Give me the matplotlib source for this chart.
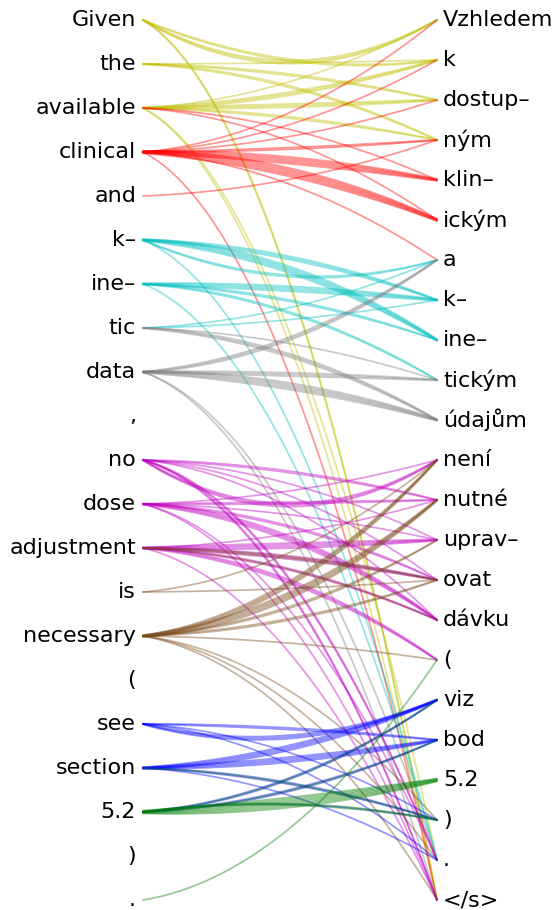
import numpy as np
import matplotlib
matplotlib.use("Agg")
import matplotlib.pyplot as plt

# ---------------- data ----------------
src_tokens = ["Given", "the", "available", "clinical", "and", "k–", "ine–", "tic",
              "data", ",", "no", "dose", "adjustment", "is", "necessary", "(",
              "see", "section", "5.2", ")", "."]
tgt_tokens = ["Vzhledem", "k", "dostup–", "ným", "klin–", "ickým", "a", "k–",
              "ine–", "tickým", "údajům", "není", "nutné", "uprav–", "ovat",
              "dávku", "(", "viz", "bod", "5.2", ")", ".", "</s>"]

# alignment links: source token, target token, strength (number of strands), colour group
link_src = [
    "Given", "Given", "Given", "the", "the", "the",
    "available", "available", "available", "available", "available", "available",
    "available", "available",
    "clinical", "clinical", "clinical", "clinical", "clinical", "clinical", "clinical", "clinical",
    "and",
    "k–", "k–", "k–", "k–", "ine–", "ine–", "ine–", "ine–", "tic", "tic",
    "tic", "tic", "data", "data", "data", "data", "data",
    "no", "no", "no", "no", "no", "no", "no",
    "dose", "dose", "dose", "dose", "dose", "dose", "dose",
    "adjustment", "adjustment", "adjustment", "adjustment", "adjustment", "adjustment",
    "adjustment", "adjustment",
    "is", "is",
    "necessary", "necessary", "necessary", "necessary", "necessary", "necessary",
    "necessary", "necessary",
    "see", "see", "see", "see",
    "section", "section", "section", "section",
    "5.2", "5.2", "5.2",
    "5.2", "5.2", "5.2", "5.2", "section", ".",
]
link_tgt = [
    "Vzhledem", "k", "</s>", "k", "dostup–", "ným",
    "Vzhledem", "k", "dostup–", "ným", ".", "</s>",
    "klin–", "ickým",
    "Vzhledem", "k", "dostup–", "ným", "klin–", "ickým", "a", "</s>",
    "ným",
    "k–", "ine–", "a", ".", "k–", "ine–", "tickým", ".", "k–", "a",
    "tickým", "údajům", "a", "tickým", "údajům", ".", "</s>",
    "není", "nutné", "uprav–", "ovat", "dávku", ".", "</s>",
    "není", "nutné", "uprav–", "ovat", "dávku", ".", "</s>",
    "nutné", "uprav–", "ovat", "dávku", "(", "</s>",
    "ovat", "dávku",
    "není", "ovat",
    "není", "nutné", "uprav–", "ovat", "(", ")", ".", "</s>",
    "viz", "bod", ")", ".",
    "viz", "bod", ")", ".",
    "viz", "bod", ")",
    "5.2", ")", "bod", "viz", ")", "(",
]
link_strength = [
    3, 2, 2, 1, 2, 2,
    1, 3, 3, 2, 1, 1,
    1, 1,
    1, 1, 1, 2, 5, 6, 1, 1,
    1,
    3, 5, 2, 1, 4, 2, 2, 1, 1, 1,
    1, 3, 3, 3, 5, 1, 1,
    3, 2, 1, 1, 1, 2, 2,
    1, 2, 1, 2, 4, 1, 1,
    1, 4, 3, 2, 3, 1,
    2, 1,
    1, 1,
    4, 5, 2, 2, 1, 1, 1, 1,
    3, 2, 1, 1,
    4, 4, 2, 1,
    2, 2, 1,
    7, 2, 1, 1, 1, 1,
]
link_group = (
    ["y"] * 12 + ["r"] * 2 + ["r"] * 8 + ["r"]
    + ["c"] * 10 + ["gray"] * 7
    + ["m"] * 7 + ["m"] * 7 + ["m"] * 6 + ["brown"] * 2
    + ["brown"] * 2 + ["brown"] * 8
    + ["b"] * 4 + ["b"] * 4 + ["b"] * 3
    + ["g"] * 6
)

# extra sag of some near-horizontal links (style, in pixels)
extra_bend = {("Given", "Vzhledem"): 42, ("Given", "k"): 28, ("no", "není"): 45,
              ("k–", "a"): 30, ("see", "viz"): 20, ("5.2", ")"): -10}

colors = {"y": (0.75, 0.75, 0.0), "r": (1.0, 0.0, 0.0), "c": (0.0, 0.75, 0.75),
          "gray": (0.5, 0.5, 0.5), "m": (0.75, 0.0, 0.75), "brown": (0.48, 0.29, 0.1),
          "b": (0.0, 0.0, 1.0), "g": (0.0, 0.5, 0.0)}

# ---------------- drawing ----------------
W, H = 557, 910
fig = plt.figure(figsize=(W / 100, H / 100), dpi=100)
x0, x1, ytop, ybot = 143, 437, 20, 900
ax = fig.add_axes([x0 / W, (H - ybot) / H, (x1 - x0) / W, (ybot - ytop) / H])
ax.set_xlim(0, 1)
ax.set_ylim(1, 0)
ax.axis("off")
span = ybot - ytop

ns, nt = len(src_tokens), len(tgt_tokens)
src_pos = {t: i / (ns - 1) for i, t in enumerate(src_tokens)}
tgt_pos = {t: j / (nt - 1) for j, t in enumerate(tgt_tokens)}

u = np.linspace(0, 1, 100)
for s, t, n, g in zip(link_src, link_tgt, link_strength, link_group):
    ya, yb = src_pos[s], tgt_pos[t]
    dy = yb - ya
    base = -0.2 * dy + extra_bend.get((s, t), 0) / span
    for k in range(n):
        off = (k - (n - 1) / 2) / span
        h = base + 0.8 * off
        y = ya + dy * u + 4 * h * u * (1 - u) + off * (0.55 + 0.45 * 4 * u * (1 - u)) * 0.9
        ax.plot(u, y, color=colors[g], lw=1.25, alpha=0.42,
                solid_capstyle="round", clip_on=False)

for t, y in src_pos.items():
    ax.annotate(t, (0, y), xytext=(-7, 0), textcoords="offset pixels",
                ha="right", va="center", fontsize=16, annotation_clip=False)
for t, y in tgt_pos.items():
    ax.annotate(t, (1, y), xytext=(6, 0), textcoords="offset pixels",
                ha="left", va="center", fontsize=16, annotation_clip=False)

fig.savefig("out.png", dpi=100)
